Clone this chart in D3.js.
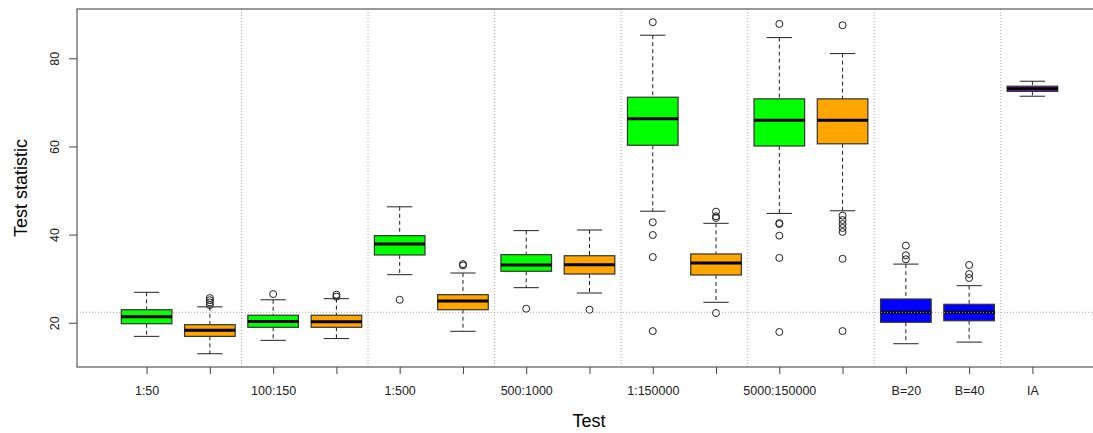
<!DOCTYPE html>
<html><head><meta charset="utf-8">
<script src="https://cdn.jsdelivr.net/npm/d3@7"></script>
<style>body{margin:0;background:#fff}svg{display:block}text{font-family:"Liberation Sans",Arial,sans-serif}</style>
</head><body><svg id="c" width="1093" height="433"></svg>
<script>
const tickLabels = ["1:50","","100:150","","1:500","","500:1000","","1:150000","","5000:150000","","B=20","B=40","IA"];
const boxColors = ["#00FF00","#FFA500","#00FF00","#FFA500","#00FF00","#FFA500","#00FF00","#FFA500","#00FF00","#FFA500","#00FF00","#FFA500","#0000FF","#0000FF","#A020F0"];
const whiskerLow = [16.9,12.96,16.0,16.4,30.9,18.05,27.95,26.74,45.3,24.63,44.8,45.4,15.23,15.6,71.4];
const q1 =         [19.77,16.9,18.96,18.96,35.37,22.95,31.67,31.05,60.27,30.83,60.1,60.6,20.1,20.45,72.5];
const medians =    [21.36,18.27,20.3,20.2,37.87,24.93,33.1,33.17,66.3,33.55,65.95,65.95,22.36,22.36,73.1];
const q3 =         [22.95,19.55,21.7,21.7,39.75,26.36,35.44,35.2,71.17,35.6,70.8,70.8,25.38,24.18,73.67];
const whiskerHigh =[26.9,23.6,25.2,25.45,46.3,31.28,40.9,41.04,85.24,42.56,84.7,81.07,33.3,28.4,74.8];
const outliers = [
  [],
  [25.6,25.1,24.6,24.0],
  [26.5],
  [26.36,25.9],
  [25.2],
  [33.3,33.0],
  [23.18],
  [22.95],
  [88.2,42.8,39.9,34.9,18.1],
  [45.2,44.15,43.77,22.2],
  [87.8,42.6,42.4,39.75,34.7,17.9],
  [87.5,44.3,43.3,42.4,41.5,40.6,34.5,18.1],
  [37.5,35.3,34.4],
  [33.1,31.05,30.15],
  []
];
const yTicks = [20,40,60,80];
const refLineY = 22.36;
const groupSeparators = [2.5,4.5,6.5,8.5,10.5,12.5,14.5];

const svg = d3.select("#c");
const x = d3.scaleLinear().domain([-0.1,16.1]).range([77,1102]);
const y = d3.scaleLinear().domain([9.95,91.19]).range([367,9]);
const bw = 0.8*(x(1)-x(0));
const cap = bw/2;

svg.append("g").selectAll("line").data(groupSeparators).join("line")
  .attr("x1",d=>x(d)).attr("x2",d=>x(d)).attr("y1",9).attr("y2",367)
  .attr("stroke","#aaa").attr("stroke-width",1).attr("stroke-dasharray","1,2");

const g = svg.append("g");
tickLabels.forEach((lab,i)=>{
  const cx = x(i+1);
  g.append("line").attr("x1",cx).attr("x2",cx).attr("y1",y(whiskerHigh[i])).attr("y2",y(q3[i]))
    .attr("stroke","#222").attr("stroke-dasharray","4,3");
  g.append("line").attr("x1",cx).attr("x2",cx).attr("y1",y(q1[i])).attr("y2",y(whiskerLow[i]))
    .attr("stroke","#222").attr("stroke-dasharray","4,3");
  [whiskerHigh[i],whiskerLow[i]].forEach(v=>{
    g.append("line").attr("x1",cx-cap/2).attr("x2",cx+cap/2).attr("y1",y(v)).attr("y2",y(v))
      .attr("stroke","#222").attr("stroke-width",1);
  });
  g.append("rect").attr("x",cx-bw/2).attr("width",bw).attr("y",y(q3[i])).attr("height",y(q1[i])-y(q3[i]))
    .attr("fill",boxColors[i]).attr("stroke","#333").attr("stroke-width",1.2);
  g.append("line").attr("x1",cx-bw/2).attr("x2",cx+bw/2).attr("y1",y(medians[i])).attr("y2",y(medians[i]))
    .attr("stroke","#000").attr("stroke-width",3);
  outliers[i].forEach(v=>{
    g.append("circle").attr("cx",cx).attr("cy",y(v)).attr("r",3.5)
      .attr("fill","none").attr("stroke","#222").attr("stroke-width",1);
  });
});

svg.append("line").attr("x1",77).attr("x2",1102).attr("y1",y(refLineY)).attr("y2",y(refLineY))
  .attr("stroke","#aaa").attr("stroke-width",1).attr("stroke-dasharray","1,2");

svg.append("rect").attr("x",77).attr("y",9).attr("width",1025).attr("height",358)
  .attr("fill","none").attr("stroke","#666").attr("stroke-width",1.3);

const xAxis = d3.axisBottom(x).tickValues(d3.range(1,16)).tickSize(7).tickPadding(12.5)
  .tickFormat((d)=>tickLabels[d-1]);
const xa = svg.append("g").attr("transform","translate(0,367)").call(xAxis);
xa.select(".domain").remove();
xa.selectAll("line").attr("stroke","#444");
xa.selectAll("text").attr("font-size",12.5).attr("fill","#222").attr("font-family","Liberation Sans, Arial, sans-serif");

const yAxis = d3.axisLeft(y).tickValues(yTicks).tickSize(8).tickPadding(0);
const ya = svg.append("g").attr("transform","translate(77,0)").call(yAxis);
ya.select(".domain").remove();
ya.selectAll("line").attr("stroke","#444");
ya.selectAll("text").attr("font-size",12.5).attr("fill","#222")
  .attr("font-family","Liberation Sans, Arial, sans-serif")
  .attr("text-anchor","middle").attr("x",null).attr("dy",null)
  .attr("transform","translate(-18,0) rotate(-90)");

svg.append("text").attr("x",589).attr("y",427).attr("text-anchor","middle")
  .attr("font-size",18).attr("fill","#000").text("Test");
svg.append("text").attr("transform","translate(27,188) rotate(-90)").attr("text-anchor","middle")
  .attr("font-size",18).attr("fill","#000").text("Test statistic");
</script></body></html>
